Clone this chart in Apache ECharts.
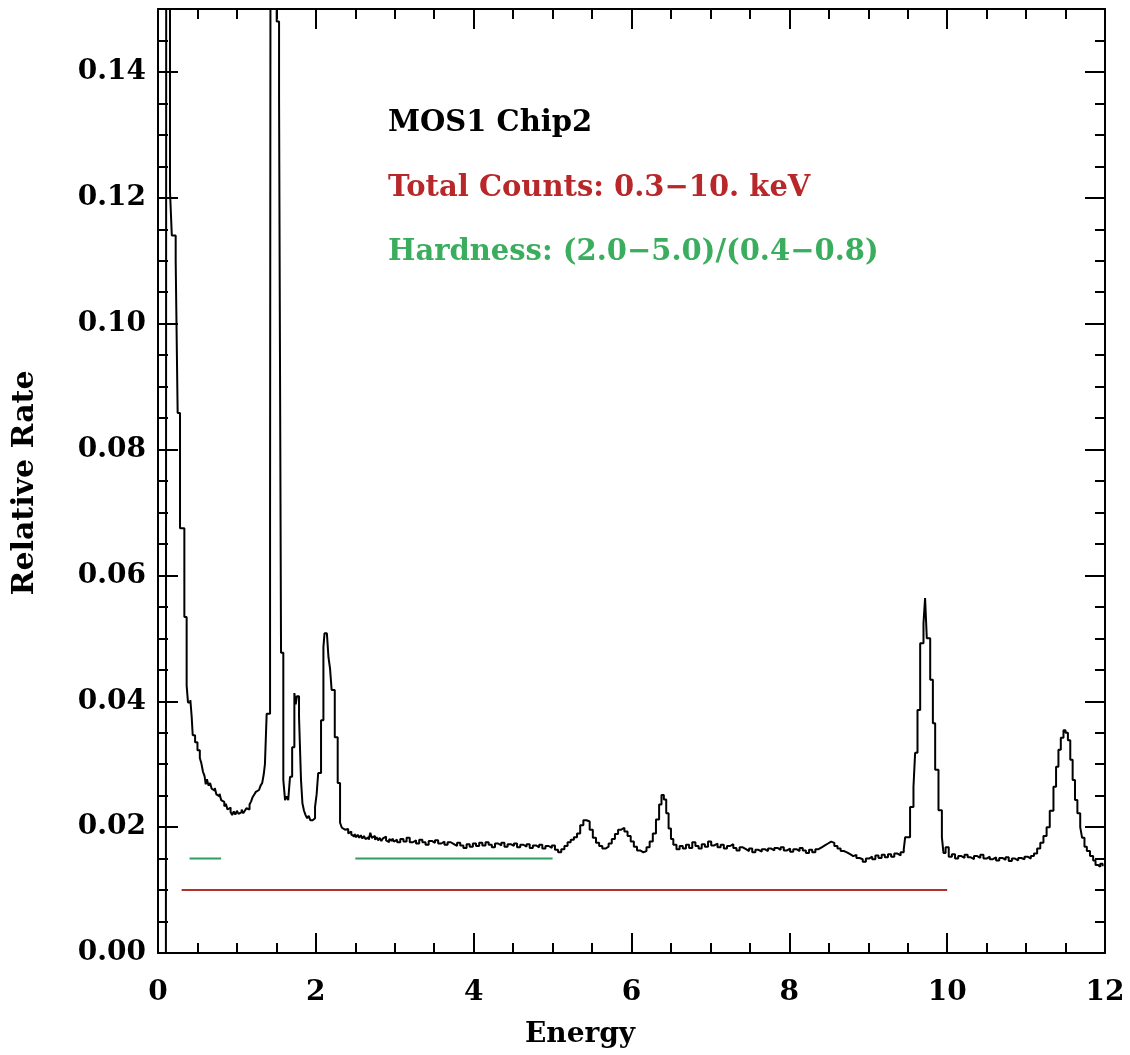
<!DOCTYPE html>
<html>
<head>
<meta charset="utf-8">
<script src="https://cdn.jsdelivr.net/npm/echarts@6/dist/echarts.min.js"></script>
<style>
html,body{margin:0;padding:0;background:#fff;}
#chart{width:1130px;height:1055px;}
</style>
</head>
<body>
<div id="chart"></div>
<script>
// ---- data ----
const energyKeV = [
 0.100,0.110,0.152,0.175,0.224,0.249,0.279,0.334,0.363,0.380,0.410,0.427,0.440,0.470,0.500,0.530,0.550,0.570,0.590,0.605,
 0.620,0.640,0.660,0.680,0.700,0.720,0.740,0.760,0.780,0.800,0.820,0.840,0.860,0.880,0.900,0.920,0.940,0.960,0.980,1.000,
 1.020,1.040,1.060,1.080,1.100,1.120,1.140,1.160,1.180,1.200,1.220,1.240,1.260,1.280,1.300,1.320,1.340,1.355,1.377,1.420,
 1.440,1.504,1.534,1.559,1.588,1.610,1.630,1.650,1.673,1.700,1.728,1.745,1.760,1.787,1.812,1.830,1.850,1.870,1.890,1.910,
 1.930,1.960,1.990,2.010,2.030,2.066,2.096,2.110,2.140,2.160,2.180,2.200,2.240,2.277,2.307,2.330,2.350,2.370,2.390,2.410,
 2.430,2.450,2.470,2.490,2.510,2.530,2.550,2.570,2.590,2.610,2.630,2.650,2.670,2.690,2.710,2.730,2.750,2.770,2.790,2.810,
 2.830,2.850,2.870,2.890,2.910,2.930,2.950,2.970,2.990,3.010,3.030,3.070,3.110,3.150,3.190,3.230,3.270,3.310,3.350,3.390,
 3.430,3.470,3.510,3.550,3.590,3.630,3.670,3.710,3.750,3.790,3.830,3.870,3.910,3.950,3.990,4.030,4.070,4.110,4.150,4.190,
 4.230,4.270,4.310,4.350,4.390,4.430,4.470,4.510,4.550,4.590,4.630,4.670,4.710,4.750,4.790,4.830,4.870,4.910,4.950,4.990,
 5.030,5.070,5.110,5.150,5.190,5.230,5.270,5.310,5.350,5.390,5.430,5.470,5.510,5.550,5.590,5.630,5.670,5.710,5.750,5.790,
 5.830,5.870,5.910,5.950,5.990,6.030,6.070,6.110,6.150,6.190,6.230,6.270,6.310,6.350,6.380,6.410,6.440,6.470,6.500,6.530,
 6.570,6.610,6.650,6.690,6.730,6.770,6.810,6.850,6.890,6.930,6.970,7.010,7.050,7.090,7.130,7.170,7.210,7.250,7.290,7.330,
 7.370,7.410,7.450,7.490,7.530,7.570,7.610,7.650,7.690,7.730,7.770,7.810,7.850,7.890,7.930,7.970,8.010,8.050,8.090,8.130,
 8.170,8.210,8.250,8.290,8.330,8.370,8.410,8.450,8.490,8.530,8.570,8.610,8.650,8.690,8.730,8.770,8.810,8.850,8.890,8.930,
 8.970,9.010,9.050,9.090,9.130,9.170,9.210,9.250,9.290,9.330,9.370,9.410,9.450,9.468,9.530,9.573,9.594,9.624,9.658,9.700,
 9.720,9.742,9.785,9.819,9.848,9.890,9.933,9.953,9.980,10.020,10.060,10.100,10.140,10.180,10.220,10.260,10.300,10.340,10.380,10.420,
 10.460,10.500,10.540,10.580,10.620,10.660,10.700,10.740,10.780,10.820,10.860,10.900,10.940,10.980,11.020,11.060,11.100,11.140,11.180,11.220,
 11.260,11.300,11.347,11.380,11.410,11.440,11.474,11.500,11.530,11.560,11.590,11.620,11.650,11.686,11.710,11.740,11.770,11.810,11.850,11.880,
 11.910,11.940,11.970
];
const relRate = [
 0.0000,0.4000,0.1210,0.1140,0.1100,0.0858,0.0675,0.0534,0.0425,0.0398,0.0402,0.0375,0.0346,0.0335,0.0322,0.0310,0.0301,0.0288,0.0281,0.0268,
 0.0276,0.0266,0.0270,0.0261,0.0258,0.0262,0.0252,0.0249,0.0253,0.0243,0.0240,0.0233,0.0237,0.0228,0.0231,0.0224,0.0219,0.0225,0.0220,0.0226,
 0.0221,0.0224,0.0228,0.0222,0.0226,0.0230,0.0228,0.0236,0.0241,0.0248,0.0252,0.0256,0.0259,0.0262,0.0266,0.0270,0.0284,0.0300,0.0380,0.0690,
 0.4000,0.1480,0.1360,0.0477,0.0275,0.0243,0.0249,0.0243,0.0280,0.0327,0.0413,0.0395,0.0408,0.0375,0.0275,0.0238,0.0226,0.0219,0.0214,0.0218,
 0.0211,0.0214,0.0232,0.0252,0.0286,0.0370,0.0486,0.0508,0.0505,0.0470,0.0452,0.0418,0.0343,0.0270,0.0207,0.0199,0.0196,0.0193,0.0197,0.0190,
 0.0193,0.0188,0.0185,0.0189,0.0184,0.0188,0.0183,0.0187,0.0182,0.0186,0.0181,0.0184,0.0180,0.0191,0.0183,0.0186,0.0180,0.0184,0.0179,0.0183,
 0.0178,0.0182,0.0185,0.0179,0.0176,0.0181,0.0178,0.0182,0.0177,0.0180,0.0176,0.0181,0.0177,0.0183,0.0176,0.0179,0.0174,0.0180,0.0176,0.0172,
 0.0178,0.0175,0.0179,0.0174,0.0177,0.0172,0.0176,0.0173,0.0170,0.0175,0.0171,0.0167,0.0173,0.0169,0.0174,0.0170,0.0175,0.0171,0.0176,0.0172,
 0.0168,0.0174,0.0171,0.0175,0.0169,0.0173,0.0170,0.0174,0.0168,0.0172,0.0169,0.0173,0.0167,0.0171,0.0168,0.0172,0.0166,0.0170,0.0167,0.0171,
 0.0164,0.0160,0.0165,0.0170,0.0176,0.0180,0.0184,0.0190,0.0203,0.0211,0.0209,0.0196,0.0183,0.0175,0.0170,0.0166,0.0169,0.0174,0.0181,0.0189,
 0.0196,0.0199,0.0193,0.0186,0.0177,0.0169,0.0163,0.0160,0.0162,0.0168,0.0177,0.0190,0.0212,0.0236,0.0251,0.0244,0.0222,0.0198,0.0181,0.0172,
 0.0165,0.0170,0.0166,0.0172,0.0167,0.0176,0.0170,0.0166,0.0173,0.0169,0.0177,0.0171,0.0174,0.0168,0.0172,0.0166,0.0170,0.0173,0.0167,0.0163,
 0.0168,0.0165,0.0162,0.0166,0.0160,0.0164,0.0161,0.0165,0.0162,0.0166,0.0163,0.0167,0.0164,0.0168,0.0163,0.0166,0.0161,0.0165,0.0162,0.0167,
 0.0163,0.0159,0.0164,0.0160,0.0165,0.0168,0.0171,0.0174,0.0177,0.0175,0.0170,0.0166,0.0162,0.0160,0.0157,0.0154,0.0156,0.0151,0.0149,0.0145,
 0.0150,0.0153,0.0149,0.0155,0.0151,0.0156,0.0152,0.0157,0.0153,0.0158,0.0155,0.0160,0.0165,0.0184,0.0232,0.0264,0.0318,0.0386,0.0492,0.0524,
 0.0564,0.0500,0.0434,0.0365,0.0291,0.0227,0.0184,0.0159,0.0168,0.0153,0.0157,0.0150,0.0154,0.0151,0.0156,0.0152,0.0149,0.0154,0.0151,0.0156,
 0.0150,0.0153,0.0149,0.0152,0.0147,0.0151,0.0148,0.0152,0.0146,0.0150,0.0147,0.0151,0.0149,0.0153,0.0150,0.0154,0.0158,0.0166,0.0175,0.0186,
 0.0200,0.0226,0.0264,0.0296,0.0323,0.0342,0.0354,0.0350,0.0338,0.0307,0.0275,0.0243,0.0222,0.0200,0.0183,0.0169,0.0162,0.0154,0.0147,0.0140,
 0.0137,0.0142,0.0138
];
// band markers
const totalBand = [0.3, 10.0];      // Total Counts band (keV)
const totalLevel = 0.010;
const hardBandSoft = [0.4, 0.8];    // Hardness soft band (keV)
const hardBandHard = [2.5, 5.0];    // Hardness hard band as drawn (keV)
const hardLevel = 0.015;
const xTicks = [0, 2, 4, 6, 8, 10, 12];
const yTickLabels = [0, 0.02, 0.04, 0.06, 0.08, 0.10, 0.12, 0.14];
const annotations = ['MOS1 Chip2', 'Total Counts: 0.3\u221210. keV', 'Hardness: (2.0\u22125.0)/(0.4\u22120.8)'];
const xTitle = 'Energy';
const yTitle = 'Relative Rate';

// ---- chart ----
const FONT = 'DejaVu Serif';
const spectrum = energyKeV.map((e, i) => [e, relRate[i]]);
const seg = (band, lvl) => [[band[0], lvl], [band[1], lvl]];

const lineCol = '#000';
const axisLineStyle = {color: lineCol, width: 2};
function xAx(pos, labels) {
  return {
    type: 'value', position: pos, min: xTicks[0], max: xTicks[xTicks.length - 1], interval: 2,
    axisLine: {show: true, onZero: false, lineStyle: axisLineStyle},
    axisTick: {show: true, inside: true, length: 20, lineStyle: {color: lineCol, width: 2}},
    minorTick: {show: true, splitNumber: 4, length: 10, lineStyle: {color: lineCol, width: 2}},
    axisLabel: {show: labels, margin: 26, fontFamily: FONT, fontWeight: 'bold', fontSize: 28, color: '#000'},
    splitLine: {show: false}, minorSplitLine: {show: false}
  };
}
function yMajor(pos, labels) {
  return {
    type: 'value', position: pos, min: 0, max: 0.15, interval: 0.02,
    axisLine: {show: true, onZero: false, lineStyle: axisLineStyle},
    axisTick: {show: true, inside: true, length: 20, lineStyle: {color: lineCol, width: 2}},
    axisLabel: {show: labels, margin: 12, fontFamily: FONT, fontWeight: 'bold', fontSize: 28, color: '#000',
      formatter: v => yTickLabels.some(t => Math.abs(t - v) < 1e-9) ? v.toFixed(2) : ''},
    splitLine: {show: false}
  };
}
function yMinor(pos) {
  return {
    type: 'value', position: pos, min: 0, max: 0.15, interval: 0.005,
    axisLine: {show: false, onZero: false},
    axisTick: {show: true, inside: true, length: 10, lineStyle: {color: lineCol, width: 2}},
    axisLabel: {show: false},
    splitLine: {show: false}
  };
}

const chart = echarts.init(document.getElementById('chart'), null, {renderer: 'canvas'});
const textFont = 'bold 29px "DejaVu Serif"';
chart.setOption({
  backgroundColor: '#fff',
  animation: false,
  grid: {left: 158, right: 25, top: 9, bottom: 102, containLabel: false},
  xAxis: [xAx('bottom', true), xAx('top', false)],
  yAxis: [yMajor('left', true), yMinor('left'), yMajor('right', false), yMinor('right')],
  series: [
    {type: 'line', xAxisIndex: 0, yAxisIndex: 0, data: spectrum, step: 'end', symbol: 'none',
      lineStyle: {color: '#000', width: 2}, clip: true, silent: true},
    {type: 'line', xAxisIndex: 0, yAxisIndex: 0, data: seg(totalBand, totalLevel), symbol: 'none',
      lineStyle: {color: '#b0302c', width: 2}, silent: true},
    {type: 'line', xAxisIndex: 0, yAxisIndex: 0, data: seg(hardBandSoft, hardLevel), symbol: 'none',
      lineStyle: {color: '#2f9e62', width: 2}, silent: true},
    {type: 'line', xAxisIndex: 0, yAxisIndex: 0, data: seg(hardBandHard, hardLevel), symbol: 'none',
      lineStyle: {color: '#2f9e62', width: 2}, silent: true}
  ],
  graphic: [
    {type: 'text', left: 388, top: 109, style: {text: annotations[0], fill: '#000', font: textFont}},
    {type: 'text', left: 388, top: 174, style: {text: annotations[1], fill: '#b8282a', font: textFont}},
    {type: 'text', left: 388, top: 238, style: {text: annotations[2], fill: '#3aae5e', font: textFont}},
    {type: 'text', x: 580, y: 1035, style: {text: xTitle, fill: '#000', font: 'bold 28px "DejaVu Serif"', align: 'center', verticalAlign: 'middle'}},
    {type: 'text', x: 25, y: 483, rotation: Math.PI / 2, style: {text: yTitle, fill: '#000', font: 'bold 30px "DejaVu Serif"', align: 'center', verticalAlign: 'middle'}}
  ]
});
</script>
</body>
</html>
